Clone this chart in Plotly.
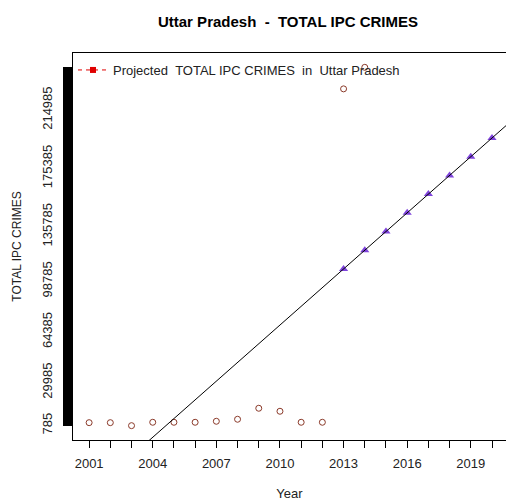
import numpy as np
import plotly.graph_objects as go

# ---------------- data ----------------
years = list(range(2001, 2015))
crimes = [2820, 2820, 785, 3090, 3090, 3090, 3770, 5130, 12600, 10560, 3090, 3090, 229365, 243985]

proj_years = list(range(2013, 2021))
proj_values = [107165, 119860, 132555, 145250, 157945, 170640, 183335, 196030]

x_tick_vals = list(range(2001, 2021))
x_tick_text = ["2001", "", "", "2004", "", "", "2007", "", "", "2010", "", "",
               "2013", "", "", "2016", "", "", "2019", ""]

y_labelled = [785, 29985, 64385, 98785, 135785, 175385, 214985]
y_tick_step = 200

state = "Uttar Pradesh"
measure = "TOTAL IPC CRIMES"

# ---------------- derived ----------------
FONT = "Liberation Sans, Arial, sans-serif"
ymin, ymax = min(crimes), max(crimes)
d = ymax - ymin
y_range = [ymin - 0.04 * d, ymax + 0.04 * d]
xmin, xmax = min(x_tick_vals), max(x_tick_vals)
xd = xmax - xmin
x_left = xmin - 0.04 * xd
x_range = [x_left, 2020.66]

y_tick_vals = list(np.arange(ymin, ymax + 1, y_tick_step))
y_tick_text = [str(int(v)) if int(v) in y_labelled else "" for v in y_tick_vals]

slope, intercept = np.polyfit(proj_years, proj_values, 1)
line_x = [x_range[0], x_range[1]]
line_y = [slope * x + intercept for x in line_x]

nb = "\u00a0"
fig = go.Figure()

# legend-only entry
fig.add_trace(go.Scatter(
    x=[None], y=[None], mode="lines+markers",
    name=f"Projected{nb}{nb}{measure}{nb}{nb}in{nb}{nb}{state}",
    line=dict(color="#e00000", width=1, dash="4px,4px"),
    marker=dict(symbol="square", size=6, color="#e00000"),
    showlegend=True))

fig.add_trace(go.Scatter(
    x=years, y=crimes, mode="markers", showlegend=False,
    marker=dict(symbol="circle-open", size=6, color="#8b3a2a", line=dict(width=1))))

fig.add_trace(go.Scatter(
    x=proj_years, y=proj_values, mode="markers", showlegend=False,
    marker=dict(symbol="triangle-up", size=8, color="#7f44dc")))

fig.add_trace(go.Scatter(
    x=line_x, y=line_y, mode="lines", showlegend=False,
    line=dict(color="black", width=1)))

fig.update_layout(
    width=506, height=501,
    margin=dict(l=73, r=0, t=53, b=61),
    paper_bgcolor="white", plot_bgcolor="white",
    font=dict(family=FONT, size=13, color="black"),
    title=dict(text=f"<b>{state}{nb}{nb}-{nb}{nb}{measure}</b>",
               xref="paper", x=0.4965, xanchor="center",
               yref="container", y=1 - 22 / 501, yanchor="middle",
               font=dict(size=15, color="black")),
    legend=dict(x=0.0, xanchor="left", y=1 - 2 / 387, yanchor="top",
                bgcolor="rgba(0,0,0,0)", font=dict(size=13, color="#222"),
                borderwidth=0),
    showlegend=True,
)

fig.update_xaxes(
    range=x_range, showgrid=False, zeroline=False,
    showline=True, linecolor="black", linewidth=1, mirror=True,
    ticks="outside", ticklen=7, tickcolor="black", tickwidth=1,
    tickmode="array", tickvals=x_tick_vals, ticktext=x_tick_text,
    tickfont=dict(size=13, color="#222"), ticklabelstandoff=4,
    title=dict(text="Year", font=dict(size=13, color="#222"), standoff=22),
)

fig.update_yaxes(
    range=y_range, showgrid=False, zeroline=False,
    showline=True, linecolor="black", linewidth=1, mirror=False,
    ticks="outside", ticklen=9, tickcolor="black", tickwidth=1,
    tickmode="array", tickvals=y_tick_vals, ticktext=y_tick_text,
    tickangle=-90, tickfont=dict(size=13, color="#222"), ticklabelstandoff=6,
    title=dict(text=measure, font=dict(size=12, color="#222"), standoff=15),
)

fig.write_html("out.html")
